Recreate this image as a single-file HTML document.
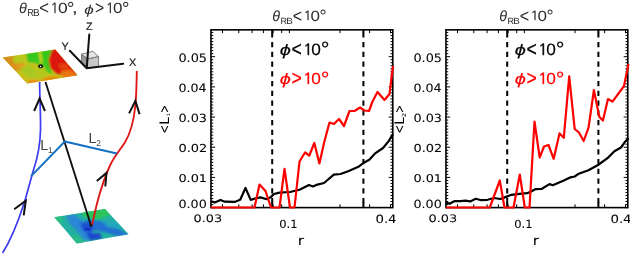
<!DOCTYPE html>
<html><head><meta charset="utf-8"><title>figure</title>
<style>
html,body{margin:0;padding:0;background:#fff;}
svg{display:block}
svg{font-family:"Liberation Sans","DejaVu Sans",sans-serif;}
text{text-rendering:geometricPrecision;}
.ax{font-size:10.8px;fill:#222;stroke:#222;stroke-width:0.2px;}
.ll{font-size:14.4px;fill:#444;}
</style></head><body>
<svg width="630" height="256" viewBox="0 0 630 256">
<rect width="630" height="256" fill="#fff"/>
<defs>
<clipPath id="cpT"><polygon points="2.8,57.6 55.2,49.6 77.5,75.2 27.2,83.6"/></clipPath>
<clipPath id="cpB"><polygon points="54.3,217.3 105,209 128.6,234.3 76.8,243.4"/></clipPath>
<filter id="bl" x="-20%" y="-20%" width="140%" height="140%"><feGaussianBlur stdDeviation="1.1"/></filter>
<filter id="bl2" x="-20%" y="-20%" width="140%" height="140%"><feGaussianBlur stdDeviation="1.3"/></filter>
<filter id="bl3" x="-30%" y="-30%" width="160%" height="160%"><feGaussianBlur stdDeviation="0.6"/></filter>
</defs>
<!-- top plane -->
<g clip-path="url(#cpT)">
 <rect x="0" y="45" width="82" height="42" fill="#c4c41c"/>
 <g filter="url(#bl)">
  <polygon points="0,56 14,55 16,61 23,65 23,70 16,71 8,66 0,60" fill="#d88e1a"/>
  <polygon points="12.5,57 24,55.5 25,62 14,63.5" fill="#b2c81c"/>
  <polygon points="15,64 24,63 25,68 18,70" fill="#e29c1e"/>
  <polygon points="20,68 30,65 36,70 40,78 30,78 24,74" fill="#a8c820"/>
  <polygon points="14,72 22,77 30,86 20,86 10,72" fill="#dca01c"/>
  <polygon points="26,53 40,50.5 56,47 54,56 50,62 50,68 53,74 46,72 41,66 36,63 28,62" fill="#38c81e"/>
  <polygon points="38.6,52 41,52 42.6,63 40.4,64 39.4,58" fill="#d2d41e"/>
  <polygon points="36,68 44,66 48,74 46,78 36,78" fill="#b4c61e"/>
  <polygon points="57,43 72,60 86,80 68,73 58,74.5 50.5,68.5 48.5,60 51.5,51" fill="#dc1608"/>
  <polygon points="58,64 67,63 70,68 61,70" fill="#e2400e"/>
  <polygon points="61,71 70,69.5 80,76 68,80 62,77" fill="#e8740f"/>
  <polygon points="46,77 54,76 62,78 60,84 40,86 38,82" fill="#e8900f"/>
  <polygon points="29,80 38,80 38,86 28,86" fill="#f0860e"/>
 </g>
</g>
<!-- bottom plane -->
<g clip-path="url(#cpB)">
 <rect x="50" y="205" width="84" height="42" fill="#22b0a2"/>
 <g filter="url(#bl2)">
  <polygon points="52,216 62,215 62,222 57,223" fill="#2cc07e"/>
  <polygon points="80,212 105,206.5 111,214 100,219 86,218" fill="#2cc45a"/>
  <polygon points="66,216 74,214.5 84,222 92,228 96,238 84,240 78,232 70,224" fill="#2c86d6"/>
  <polygon points="84,220 100,221 112,226 130,235 118,236 104,232 92,230" fill="#2470d2"/>
  <polygon points="102,220.5 116,222 122,229 108,227.5" fill="#22a6bc"/>
  <polygon points="80,223 90,222 94,229 90,233 83,231" fill="#1e50d0"/>
  <polygon points="86,233 100,233 102,238.5 90,240.5" fill="#1a4acb"/>
  <polygon points="68,235 79,236 86,243 76,245" fill="#2cba8a"/>
 </g>
 <ellipse cx="87.5" cy="229.2" rx="3" ry="1.4" fill="#1030c8" filter="url(#bl3)"/>
</g>
<!-- triad -->
<polygon points="81.5,54.3 92.8,51.3 98.6,56.6 87.6,59" fill="#e6e6e6" stroke="#666" stroke-width="0.8"/>
<polygon points="81.5,54.3 87.6,59 87.6,68.3 81.5,63.2" fill="#989898" stroke="#666" stroke-width="0.8"/>
<polygon points="87.6,59 98.6,56.6 98.6,66.6 87.6,68.3" fill="#c8c8c8" stroke="#666" stroke-width="0.8"/>
<path d="M89.3,34.4 L86.7,68.3 L123.2,63.7 M86.7,68.3 L69.8,50.8" fill="none" stroke="#111" stroke-width="2" stroke-linejoin="round" stroke-linecap="round"/>
<text class="ax" x="89.4" y="30" text-anchor="middle">Z</text>
<text class="ax" x="65.2" y="49.6" text-anchor="middle">Y</text>
<text class="ax" x="132.6" y="66" text-anchor="middle">X</text>
<!-- lines -->
<path d="M45.5,82 L91,225.5" stroke="#111" stroke-width="1.9" fill="none"/>
<path d="M39.6,82 C39.8,100 40.8,118 40.5,130 C40.2,145 37.5,158 33.5,170 C30,182 27,194 24.2,203 C20,216 12,238 2.6,253" stroke="#3c3cf0" stroke-width="1.7" fill="none"/>
<path d="M136.8,71 C136.6,85 136.4,95 135.4,105 C134,120 130,134 125,142.2 C120,150 114,157 110.5,164.5 C105,176 100,192 97,203.5 C95,212 93.5,218 92,225" stroke="#e01616" stroke-width="1.85" fill="none"/>
<path d="M30.9,176.4 L64.8,141.5 L116.8,153.5" stroke="#1270c2" stroke-width="1.9" fill="none" stroke-linejoin="round"/>
<!-- arrows -->
<path d="M34.1,111 L39.6,98.6 L45,111" stroke="#111" stroke-width="2" fill="none" stroke-linejoin="miter"/>
<path d="M129.1,113.4 L135.4,101 L139.6,114.2" stroke="#111" stroke-width="2" fill="none" stroke-linejoin="miter"/>
<path d="M14.2,209.3 L25.8,200.8 L23.7,215.3" stroke="#111" stroke-width="2" fill="none" stroke-linejoin="miter"/>
<path d="M96.8,181.1 L106.5,172.9 L105.3,186.3" stroke="#111" stroke-width="2" fill="none" stroke-linejoin="miter"/>
<!-- dots -->
<ellipse cx="40.6" cy="66.3" rx="2.5" ry="2.0" fill="#111"/><circle cx="40.6" cy="66.5" r="0.8" fill="#f4f4f4"/>
<circle cx="91" cy="225.5" r="1.4" fill="#111"/>
<!-- labels -->
<text class="ll" x="40.2" y="150.2">L<tspan font-size="8.5" dy="2.6" dx="-0.2">1</tspan></text>
<text class="ll" x="88.6" y="143.2">L<tspan font-size="8.5" dy="3" dx="-0.3">2</tspan></text>

<text><tspan x="18.88" y="13.00" font-family="Liberation Sans, Liberation Sans, sans-serif" font-size="14.52" font-style="italic" fill="#2c2c2c" textLength="7.83" lengthAdjust="spacingAndGlyphs">θ</tspan><tspan x="27.17" y="16.00" font-family="Liberation Sans, Liberation Sans, sans-serif" font-size="10.14" fill="#2c2c2c" textLength="6.61" lengthAdjust="spacingAndGlyphs">R</tspan><tspan x="33.09" y="16.00" font-family="Liberation Sans, Liberation Sans, sans-serif" font-size="10.14" fill="#2c2c2c" textLength="6.73" lengthAdjust="spacingAndGlyphs">B</tspan><tspan x="39.36" y="14.00" font-family="Liberation Sans, Liberation Sans, sans-serif" font-size="18.82" fill="#2c2c2c" textLength="9.75" lengthAdjust="spacingAndGlyphs">&lt;</tspan><tspan x="50.51" y="13.00" font-family="NanumGothic, Liberation Sans, sans-serif" font-size="13.92" fill="#2c2c2c" stroke="#2c2c2c" stroke-width="0.25" textLength="8.17" lengthAdjust="spacingAndGlyphs">1</tspan><tspan x="57.90" y="13.00" font-family="Liberation Sans, Liberation Sans, sans-serif" font-size="14.71" fill="#2c2c2c" textLength="9.72" lengthAdjust="spacingAndGlyphs">0</tspan><tspan x="66.99" y="15.00" font-family="Liberation Sans, Liberation Sans, sans-serif" font-size="18.93" fill="#2c2c2c" textLength="7.43" lengthAdjust="spacingAndGlyphs">°</tspan><tspan x="71.70" y="13.00" font-family="Liberation Sans, Liberation Sans, sans-serif" font-size="15.65" fill="#2c2c2c" textLength="6.14" lengthAdjust="spacingAndGlyphs">,</tspan> <tspan x="84.28" y="14.00" font-family="Liberation Sans, Liberation Sans, sans-serif" font-size="12.66" font-style="italic" fill="#2c2c2c" textLength="9.55" lengthAdjust="spacingAndGlyphs">ϕ</tspan><tspan x="94.92" y="14.00" font-family="Liberation Sans, Liberation Sans, sans-serif" font-size="18.82" fill="#2c2c2c" textLength="9.15" lengthAdjust="spacingAndGlyphs">&gt;</tspan><tspan x="105.65" y="13.00" font-family="NanumGothic, Liberation Sans, sans-serif" font-size="13.92" fill="#2c2c2c" stroke="#2c2c2c" stroke-width="0.25" textLength="8.43" lengthAdjust="spacingAndGlyphs">1</tspan><tspan x="113.12" y="13.00" font-family="Liberation Sans, Liberation Sans, sans-serif" font-size="14.71" fill="#2c2c2c" textLength="9.48" lengthAdjust="spacingAndGlyphs">0</tspan><tspan x="121.99" y="15.00" font-family="Liberation Sans, Liberation Sans, sans-serif" font-size="18.93" fill="#2c2c2c" textLength="7.43" lengthAdjust="spacingAndGlyphs">°</tspan></text>
<path d="M222.5,29.85v3.3M222.5,207.6v-3.3M238.8,29.85v3.3M238.8,207.6v-3.3M252.1,29.85v3.3M252.1,207.6v-3.3M263.4,29.85v3.3M263.4,207.6v-3.3M273.1,29.85v3.3M273.1,207.6v-3.3M281.7,29.85v3.3M281.7,207.6v-3.3M289.4,29.85v3.3M289.4,207.6v-3.3M340.0,29.85v3.3M340.0,207.6v-3.3M369.6,29.85v3.3M369.6,207.6v-3.3M390.5,29.85v3.3M390.5,207.6v-3.3M210.95,207.60h4.1M392.8,207.60h-4.1M210.95,204.58h2.3M392.8,204.58h-2.3M210.95,201.56h2.3M392.8,201.56h-2.3M210.95,198.55h2.3M392.8,198.55h-2.3M210.95,195.53h2.3M392.8,195.53h-2.3M210.95,192.51h2.3M392.8,192.51h-2.3M210.95,189.49h2.3M392.8,189.49h-2.3M210.95,186.47h2.3M392.8,186.47h-2.3M210.95,183.46h2.3M392.8,183.46h-2.3M210.95,180.44h2.3M392.8,180.44h-2.3M210.95,177.42h4.1M392.8,177.42h-4.1M210.95,174.40h2.3M392.8,174.40h-2.3M210.95,171.38h2.3M392.8,171.38h-2.3M210.95,168.37h2.3M392.8,168.37h-2.3M210.95,165.35h2.3M392.8,165.35h-2.3M210.95,162.33h2.3M392.8,162.33h-2.3M210.95,159.31h2.3M392.8,159.31h-2.3M210.95,156.29h2.3M392.8,156.29h-2.3M210.95,153.28h2.3M392.8,153.28h-2.3M210.95,150.26h2.3M392.8,150.26h-2.3M210.95,147.24h4.1M392.8,147.24h-4.1M210.95,144.22h2.3M392.8,144.22h-2.3M210.95,141.20h2.3M392.8,141.20h-2.3M210.95,138.19h2.3M392.8,138.19h-2.3M210.95,135.17h2.3M392.8,135.17h-2.3M210.95,132.15h2.3M392.8,132.15h-2.3M210.95,129.13h2.3M392.8,129.13h-2.3M210.95,126.11h2.3M392.8,126.11h-2.3M210.95,123.10h2.3M392.8,123.10h-2.3M210.95,120.08h2.3M392.8,120.08h-2.3M210.95,117.06h4.1M392.8,117.06h-4.1M210.95,114.04h2.3M392.8,114.04h-2.3M210.95,111.02h2.3M392.8,111.02h-2.3M210.95,108.01h2.3M392.8,108.01h-2.3M210.95,104.99h2.3M392.8,104.99h-2.3M210.95,101.97h2.3M392.8,101.97h-2.3M210.95,98.95h2.3M392.8,98.95h-2.3M210.95,95.93h2.3M392.8,95.93h-2.3M210.95,92.92h2.3M392.8,92.92h-2.3M210.95,89.90h2.3M392.8,89.90h-2.3M210.95,86.88h4.1M392.8,86.88h-4.1M210.95,83.86h2.3M392.8,83.86h-2.3M210.95,80.84h2.3M392.8,80.84h-2.3M210.95,77.83h2.3M392.8,77.83h-2.3M210.95,74.81h2.3M392.8,74.81h-2.3M210.95,71.79h2.3M392.8,71.79h-2.3M210.95,68.77h2.3M392.8,68.77h-2.3M210.95,65.75h2.3M392.8,65.75h-2.3M210.95,62.74h2.3M392.8,62.74h-2.3M210.95,59.72h2.3M392.8,59.72h-2.3M210.95,56.70h4.1M392.8,56.70h-4.1M210.95,53.68h2.3M392.8,53.68h-2.3M210.95,50.66h2.3M392.8,50.66h-2.3M210.95,47.65h2.3M392.8,47.65h-2.3M210.95,44.63h2.3M392.8,44.63h-2.3M210.95,41.61h2.3M392.8,41.61h-2.3M210.95,38.59h2.3M392.8,38.59h-2.3M210.95,35.57h2.3M392.8,35.57h-2.3M210.95,32.56h2.3M392.8,32.56h-2.3" stroke="#000" stroke-width="1.0" fill="none"/>
<rect x="210.95" y="29.85" width="181.85" height="177.75" fill="none" stroke="#000" stroke-width="1.6"/>
<line x1="272.2" y1="29.85" x2="272.2" y2="207.6" stroke="#000" stroke-width="2" stroke-dasharray="5.3,4.45" stroke-dashoffset="7.35"/>
<path d="M272.2,29.85v3M272.2,207.6v-5" stroke="#000" stroke-width="2" fill="none"/>
<line x1="363.4" y1="29.85" x2="363.4" y2="207.6" stroke="#000" stroke-width="2" stroke-dasharray="5.3,4.45" stroke-dashoffset="7.35"/>
<path d="M363.4,29.85v3M363.4,207.6v-5" stroke="#000" stroke-width="2" fill="none"/>
<polyline points="210.8,201.3 214.8,202.4 220.5,199.9 224.7,201.7 235.2,201.8 240.2,199.8 245.5,188.0 250.7,199.9 255.0,198.5 260.5,197.4 266.9,199.2 270.8,197.1 273.9,194.0 279.5,192.6 290.0,192.0 299.5,189.8 309.0,185.0 313.0,186.5 317.4,184.6 324.0,183.0 333.8,174.7 340.6,174.0 348.8,171.0 358.4,166.8 363.3,163.0 369.3,159.7 374.8,153.7 383.0,148.0 388.5,141.4 393.0,134.0" fill="none" stroke="#000" stroke-width="2.2" stroke-linejoin="round"/>
<polyline points="211.0,207.5 254.5,207.5 259.5,184.5 265.5,191.0 271.0,207.5 279.5,207.5 284.5,168.8 290.0,207.5 294.5,207.5 299.5,161.5 305.0,152.5 309.3,155.5 314.3,143.0 319.4,163.5 324.5,141.0 329.5,122.5 334.0,124.0 339.0,119.0 344.0,126.0 349.5,111.0 354.5,111.0 360.0,107.5 364.5,110.5 369.0,111.0 372.5,101.5 377.5,92.0 384.5,100.0 389.5,94.0 393.0,66.0" fill="none" stroke="#ff0000" stroke-width="2.2" stroke-linejoin="round"/>
<text><tspan x="178.47" y="208.00" font-family="DejaVu Sans, Liberation Sans, sans-serif" font-size="11.35" fill="#000" stroke="#000" stroke-width="0.06" textLength="28.27" lengthAdjust="spacingAndGlyphs">0.00</tspan></text>
<text><tspan x="178.46" y="182.00" font-family="DejaVu Sans, Liberation Sans, sans-serif" font-size="10.78" fill="#000" stroke="#000" stroke-width="0.06" textLength="28.61" lengthAdjust="spacingAndGlyphs">0.01</tspan></text>
<text><tspan x="178.46" y="152.00" font-family="DejaVu Sans, Liberation Sans, sans-serif" font-size="11.03" fill="#000" stroke="#000" stroke-width="0.06" textLength="28.75" lengthAdjust="spacingAndGlyphs">0.02</tspan></text>
<text><tspan x="178.47" y="122.00" font-family="DejaVu Sans, Liberation Sans, sans-serif" font-size="11.27" fill="#000" stroke="#000" stroke-width="0.06" textLength="28.47" lengthAdjust="spacingAndGlyphs">0.03</tspan></text>
<text><tspan x="178.48" y="92.00" font-family="DejaVu Sans, Liberation Sans, sans-serif" font-size="11.51" fill="#000" stroke="#000" stroke-width="0.06" textLength="28.14" lengthAdjust="spacingAndGlyphs">0.04</tspan></text>
<text><tspan x="178.47" y="62.00" font-family="DejaVu Sans, Liberation Sans, sans-serif" font-size="11.76" fill="#000" stroke="#000" stroke-width="0.06" textLength="28.54" lengthAdjust="spacingAndGlyphs">0.05</tspan></text>
<text><tspan x="193.57" y="222.00" font-family="DejaVu Sans, Liberation Sans, sans-serif" font-size="10.27" fill="#000" stroke="#000" stroke-width="0.06" textLength="28.58" lengthAdjust="spacingAndGlyphs">0.03</tspan></text>
<text><tspan x="279.25" y="228.00" font-family="DejaVu Sans, Liberation Sans, sans-serif" font-size="11.22" fill="#000" stroke="#000" stroke-width="0.06" textLength="18.29" lengthAdjust="spacingAndGlyphs">0.1</tspan></text>
<text><tspan x="375.44" y="223.00" font-family="DejaVu Sans, Liberation Sans, sans-serif" font-size="11.49" fill="#000" stroke="#000" stroke-width="0.06" textLength="21.10" lengthAdjust="spacingAndGlyphs">0.4</tspan></text>
<text><tspan x="297.82" y="245.00" font-family="DejaVu Sans, Liberation Sans, sans-serif" font-size="13.04" fill="#000" stroke="#000" stroke-width="0.06" textLength="6.30" lengthAdjust="spacingAndGlyphs">r</tspan></text>
<text transform="translate(165,119) rotate(-90)"><tspan x="-14.49" y="4.00" font-family="DejaVu Sans, Liberation Sans, sans-serif" font-size="13.96" fill="#000" textLength="8.71" lengthAdjust="spacingAndGlyphs">&lt;</tspan><tspan x="-5.76" y="4.00" font-family="DejaVu Sans, Liberation Sans, sans-serif" font-size="13.15" fill="#000" textLength="7.55" lengthAdjust="spacingAndGlyphs">L</tspan><tspan x="2.47" y="5.00" font-family="DejaVu Sans, Liberation Sans, sans-serif" font-size="4.38" fill="#000" textLength="3.66" lengthAdjust="spacingAndGlyphs">1</tspan><tspan x="6.09" y="4.00" font-family="DejaVu Sans, Liberation Sans, sans-serif" font-size="13.96" fill="#000" textLength="8.04" lengthAdjust="spacingAndGlyphs">&gt;</tspan></text>
<text><tspan x="272.23" y="21.00" font-family="Liberation Sans, Liberation Sans, sans-serif" font-size="14.79" font-style="italic" fill="#2c2c2c" textLength="7.77" lengthAdjust="spacingAndGlyphs">θ</tspan><tspan x="280.58" y="24.00" font-family="Liberation Sans, Liberation Sans, sans-serif" font-size="8.99" fill="#2c2c2c" textLength="6.49" lengthAdjust="spacingAndGlyphs">R</tspan><tspan x="286.21" y="24.00" font-family="Liberation Sans, Liberation Sans, sans-serif" font-size="8.99" fill="#2c2c2c" textLength="6.61" lengthAdjust="spacingAndGlyphs">B</tspan><tspan x="292.70" y="22.00" font-family="Liberation Sans, Liberation Sans, sans-serif" font-size="18.24" fill="#2c2c2c" textLength="9.39" lengthAdjust="spacingAndGlyphs">&lt;</tspan><tspan x="303.51" y="20.00" font-family="NanumGothic, Liberation Sans, sans-serif" font-size="12.57" fill="#2c2c2c" stroke="#2c2c2c" stroke-width="0.25" textLength="8.17" lengthAdjust="spacingAndGlyphs">1</tspan><tspan x="310.62" y="21.00" font-family="Liberation Sans, Liberation Sans, sans-serif" font-size="14.71" fill="#2c2c2c" textLength="9.48" lengthAdjust="spacingAndGlyphs">0</tspan><tspan x="319.53" y="22.00" font-family="Liberation Sans, Liberation Sans, sans-serif" font-size="17.86" fill="#2c2c2c" textLength="7.14" lengthAdjust="spacingAndGlyphs">°</tspan></text>
<text><tspan x="279.70" y="55.00" font-family="Liberation Sans, Liberation Sans, sans-serif" font-size="15.11" font-style="italic" fill="#000" stroke="#000" stroke-width="0.15" textLength="11.12" lengthAdjust="spacingAndGlyphs">ϕ</tspan><tspan x="291.41" y="56.00" font-family="Liberation Sans, Liberation Sans, sans-serif" font-size="20.98" fill="#000" stroke="#000" stroke-width="0.15" textLength="10.36" lengthAdjust="spacingAndGlyphs">&lt;</tspan><tspan x="303.05" y="55.00" font-family="NanumGothic, Liberation Sans, sans-serif" font-size="15.41" fill="#000" stroke="#000" stroke-width="0.45" textLength="9.75" lengthAdjust="spacingAndGlyphs">1</tspan><tspan x="311.31" y="55.00" font-family="Liberation Sans, Liberation Sans, sans-serif" font-size="16.29" fill="#000" stroke="#000" stroke-width="0.15" textLength="9.60" lengthAdjust="spacingAndGlyphs">0</tspan><tspan x="320.89" y="56.00" font-family="Liberation Sans, Liberation Sans, sans-serif" font-size="20.71" fill="#000" stroke="#000" stroke-width="0.15" textLength="8.71" lengthAdjust="spacingAndGlyphs">°</tspan></text>
<text><tspan x="279.70" y="84.00" font-family="Liberation Sans, Liberation Sans, sans-serif" font-size="15.11" font-style="italic" fill="#ff0000" stroke="#ff0000" stroke-width="0.15" textLength="11.12" lengthAdjust="spacingAndGlyphs">ϕ</tspan><tspan x="291.41" y="85.00" font-family="Liberation Sans, Liberation Sans, sans-serif" font-size="20.98" fill="#ff0000" stroke="#ff0000" stroke-width="0.15" textLength="10.36" lengthAdjust="spacingAndGlyphs">&gt;</tspan><tspan x="303.05" y="84.00" font-family="NanumGothic, Liberation Sans, sans-serif" font-size="15.27" fill="#ff0000" stroke="#ff0000" stroke-width="0.45" textLength="9.75" lengthAdjust="spacingAndGlyphs">1</tspan><tspan x="311.31" y="84.00" font-family="Liberation Sans, Liberation Sans, sans-serif" font-size="16.14" fill="#ff0000" stroke="#ff0000" stroke-width="0.15" textLength="9.60" lengthAdjust="spacingAndGlyphs">0</tspan><tspan x="320.89" y="86.00" font-family="Liberation Sans, Liberation Sans, sans-serif" font-size="20.71" fill="#ff0000" stroke="#ff0000" stroke-width="0.15" textLength="8.71" lengthAdjust="spacingAndGlyphs">°</tspan></text>
<path d="M457.5,29.85v3.3M457.5,207.6v-3.3M473.8,29.85v3.3M473.8,207.6v-3.3M487.1,29.85v3.3M487.1,207.6v-3.3M498.4,29.85v3.3M498.4,207.6v-3.3M508.1,29.85v3.3M508.1,207.6v-3.3M516.7,29.85v3.3M516.7,207.6v-3.3M524.4,29.85v3.3M524.4,207.6v-3.3M575.0,29.85v3.3M575.0,207.6v-3.3M604.6,29.85v3.3M604.6,207.6v-3.3M625.5,29.85v3.3M625.5,207.6v-3.3M445.95,207.60h4.1M627.8,207.60h-4.1M445.95,204.58h2.3M627.8,204.58h-2.3M445.95,201.56h2.3M627.8,201.56h-2.3M445.95,198.55h2.3M627.8,198.55h-2.3M445.95,195.53h2.3M627.8,195.53h-2.3M445.95,192.51h2.3M627.8,192.51h-2.3M445.95,189.49h2.3M627.8,189.49h-2.3M445.95,186.47h2.3M627.8,186.47h-2.3M445.95,183.46h2.3M627.8,183.46h-2.3M445.95,180.44h2.3M627.8,180.44h-2.3M445.95,177.42h4.1M627.8,177.42h-4.1M445.95,174.40h2.3M627.8,174.40h-2.3M445.95,171.38h2.3M627.8,171.38h-2.3M445.95,168.37h2.3M627.8,168.37h-2.3M445.95,165.35h2.3M627.8,165.35h-2.3M445.95,162.33h2.3M627.8,162.33h-2.3M445.95,159.31h2.3M627.8,159.31h-2.3M445.95,156.29h2.3M627.8,156.29h-2.3M445.95,153.28h2.3M627.8,153.28h-2.3M445.95,150.26h2.3M627.8,150.26h-2.3M445.95,147.24h4.1M627.8,147.24h-4.1M445.95,144.22h2.3M627.8,144.22h-2.3M445.95,141.20h2.3M627.8,141.20h-2.3M445.95,138.19h2.3M627.8,138.19h-2.3M445.95,135.17h2.3M627.8,135.17h-2.3M445.95,132.15h2.3M627.8,132.15h-2.3M445.95,129.13h2.3M627.8,129.13h-2.3M445.95,126.11h2.3M627.8,126.11h-2.3M445.95,123.10h2.3M627.8,123.10h-2.3M445.95,120.08h2.3M627.8,120.08h-2.3M445.95,117.06h4.1M627.8,117.06h-4.1M445.95,114.04h2.3M627.8,114.04h-2.3M445.95,111.02h2.3M627.8,111.02h-2.3M445.95,108.01h2.3M627.8,108.01h-2.3M445.95,104.99h2.3M627.8,104.99h-2.3M445.95,101.97h2.3M627.8,101.97h-2.3M445.95,98.95h2.3M627.8,98.95h-2.3M445.95,95.93h2.3M627.8,95.93h-2.3M445.95,92.92h2.3M627.8,92.92h-2.3M445.95,89.90h2.3M627.8,89.90h-2.3M445.95,86.88h4.1M627.8,86.88h-4.1M445.95,83.86h2.3M627.8,83.86h-2.3M445.95,80.84h2.3M627.8,80.84h-2.3M445.95,77.83h2.3M627.8,77.83h-2.3M445.95,74.81h2.3M627.8,74.81h-2.3M445.95,71.79h2.3M627.8,71.79h-2.3M445.95,68.77h2.3M627.8,68.77h-2.3M445.95,65.75h2.3M627.8,65.75h-2.3M445.95,62.74h2.3M627.8,62.74h-2.3M445.95,59.72h2.3M627.8,59.72h-2.3M445.95,56.70h4.1M627.8,56.70h-4.1M445.95,53.68h2.3M627.8,53.68h-2.3M445.95,50.66h2.3M627.8,50.66h-2.3M445.95,47.65h2.3M627.8,47.65h-2.3M445.95,44.63h2.3M627.8,44.63h-2.3M445.95,41.61h2.3M627.8,41.61h-2.3M445.95,38.59h2.3M627.8,38.59h-2.3M445.95,35.57h2.3M627.8,35.57h-2.3M445.95,32.56h2.3M627.8,32.56h-2.3" stroke="#000" stroke-width="1.0" fill="none"/>
<rect x="445.95" y="29.85" width="181.85" height="177.75" fill="none" stroke="#000" stroke-width="1.6"/>
<line x1="507.2" y1="29.85" x2="507.2" y2="207.6" stroke="#000" stroke-width="2" stroke-dasharray="5.3,4.45" stroke-dashoffset="7.35"/>
<path d="M507.2,29.85v3M507.2,207.6v-5" stroke="#000" stroke-width="2" fill="none"/>
<line x1="598.4" y1="29.85" x2="598.4" y2="207.6" stroke="#000" stroke-width="2" stroke-dasharray="5.3,4.45" stroke-dashoffset="7.35"/>
<path d="M598.4,29.85v3M598.4,207.6v-5" stroke="#000" stroke-width="2" fill="none"/>
<polyline points="445.8,202.2 449.5,203.8 454.3,201.2 460.6,201.2 465.4,200.7 470.2,201.4 475.7,198.8 481.3,200.2 487.6,199.8 494.0,198.0 500.3,199.0 506.7,196.6 511.4,194.8 519.4,193.9 527.3,193.2 532.0,191.0 535.2,189.2 541.9,188.8 549.5,184.1 552.8,185.2 563.8,180.6 570.6,177.3 574.7,176.5 578.8,173.7 588.4,170.2 598.0,165.0 607.5,158.2 614.4,151.2 621.0,147.5 625.3,141.5 628.5,138.3" fill="none" stroke="#000" stroke-width="2.2" stroke-linejoin="round"/>
<polyline points="446.0,207.5 489.8,207.5 499.8,180.5 504.5,207.5 513.5,207.5 519.8,174.5 524.8,207.5 529.5,207.5 534.5,121.5 539.7,157.5 544.0,146.5 548.5,145.0 553.7,158.8 559.5,133.4 563.8,137.8 569.2,76.4 574.7,129.0 578.8,132.3 583.7,141.0 588.6,127.4 593.9,90.0 599.3,116.8 602.9,120.6 608.0,99.0 612.5,101.6 624.0,86.0 628.5,64.0" fill="none" stroke="#ff0000" stroke-width="2.2" stroke-linejoin="round"/>
<text><tspan x="413.47" y="208.00" font-family="DejaVu Sans, Liberation Sans, sans-serif" font-size="11.35" fill="#000" stroke="#000" stroke-width="0.06" textLength="28.27" lengthAdjust="spacingAndGlyphs">0.00</tspan></text>
<text><tspan x="413.46" y="182.00" font-family="DejaVu Sans, Liberation Sans, sans-serif" font-size="10.78" fill="#000" stroke="#000" stroke-width="0.06" textLength="28.61" lengthAdjust="spacingAndGlyphs">0.01</tspan></text>
<text><tspan x="413.46" y="152.00" font-family="DejaVu Sans, Liberation Sans, sans-serif" font-size="11.03" fill="#000" stroke="#000" stroke-width="0.06" textLength="28.75" lengthAdjust="spacingAndGlyphs">0.02</tspan></text>
<text><tspan x="413.47" y="122.00" font-family="DejaVu Sans, Liberation Sans, sans-serif" font-size="11.27" fill="#000" stroke="#000" stroke-width="0.06" textLength="28.47" lengthAdjust="spacingAndGlyphs">0.03</tspan></text>
<text><tspan x="413.48" y="92.00" font-family="DejaVu Sans, Liberation Sans, sans-serif" font-size="11.51" fill="#000" stroke="#000" stroke-width="0.06" textLength="28.14" lengthAdjust="spacingAndGlyphs">0.04</tspan></text>
<text><tspan x="413.47" y="62.00" font-family="DejaVu Sans, Liberation Sans, sans-serif" font-size="11.76" fill="#000" stroke="#000" stroke-width="0.06" textLength="28.54" lengthAdjust="spacingAndGlyphs">0.05</tspan></text>
<text><tspan x="428.57" y="222.00" font-family="DejaVu Sans, Liberation Sans, sans-serif" font-size="10.27" fill="#000" stroke="#000" stroke-width="0.06" textLength="28.58" lengthAdjust="spacingAndGlyphs">0.03</tspan></text>
<text><tspan x="514.25" y="228.00" font-family="DejaVu Sans, Liberation Sans, sans-serif" font-size="11.22" fill="#000" stroke="#000" stroke-width="0.06" textLength="18.29" lengthAdjust="spacingAndGlyphs">0.1</tspan></text>
<text><tspan x="610.44" y="223.00" font-family="DejaVu Sans, Liberation Sans, sans-serif" font-size="11.49" fill="#000" stroke="#000" stroke-width="0.06" textLength="21.10" lengthAdjust="spacingAndGlyphs">0.4</tspan></text>
<text><tspan x="532.82" y="245.00" font-family="DejaVu Sans, Liberation Sans, sans-serif" font-size="13.04" fill="#000" stroke="#000" stroke-width="0.06" textLength="6.30" lengthAdjust="spacingAndGlyphs">r</tspan></text>
<text transform="translate(400,119) rotate(-90)"><tspan x="-14.49" y="4.00" font-family="DejaVu Sans, Liberation Sans, sans-serif" font-size="13.96" fill="#000" textLength="8.71" lengthAdjust="spacingAndGlyphs">&lt;</tspan><tspan x="-5.76" y="4.00" font-family="DejaVu Sans, Liberation Sans, sans-serif" font-size="13.15" fill="#000" textLength="7.55" lengthAdjust="spacingAndGlyphs">L</tspan><tspan x="1.76" y="6.00" font-family="DejaVu Sans, Liberation Sans, sans-serif" font-size="5.68" fill="#000" textLength="4.56" lengthAdjust="spacingAndGlyphs">2</tspan><tspan x="6.09" y="4.00" font-family="DejaVu Sans, Liberation Sans, sans-serif" font-size="13.96" fill="#000" textLength="8.04" lengthAdjust="spacingAndGlyphs">&gt;</tspan></text>
<text><tspan x="499.23" y="21.00" font-family="Liberation Sans, Liberation Sans, sans-serif" font-size="14.79" font-style="italic" fill="#2c2c2c" textLength="7.77" lengthAdjust="spacingAndGlyphs">θ</tspan><tspan x="507.58" y="24.00" font-family="Liberation Sans, Liberation Sans, sans-serif" font-size="8.99" fill="#2c2c2c" textLength="6.49" lengthAdjust="spacingAndGlyphs">R</tspan><tspan x="513.21" y="24.00" font-family="Liberation Sans, Liberation Sans, sans-serif" font-size="8.99" fill="#2c2c2c" textLength="6.61" lengthAdjust="spacingAndGlyphs">B</tspan><tspan x="519.70" y="22.00" font-family="Liberation Sans, Liberation Sans, sans-serif" font-size="18.24" fill="#2c2c2c" textLength="9.39" lengthAdjust="spacingAndGlyphs">&lt;</tspan><tspan x="530.51" y="20.00" font-family="NanumGothic, Liberation Sans, sans-serif" font-size="12.57" fill="#2c2c2c" stroke="#2c2c2c" stroke-width="0.25" textLength="8.17" lengthAdjust="spacingAndGlyphs">1</tspan><tspan x="537.62" y="21.00" font-family="Liberation Sans, Liberation Sans, sans-serif" font-size="14.71" fill="#2c2c2c" textLength="9.48" lengthAdjust="spacingAndGlyphs">0</tspan><tspan x="546.53" y="22.00" font-family="Liberation Sans, Liberation Sans, sans-serif" font-size="17.86" fill="#2c2c2c" textLength="7.14" lengthAdjust="spacingAndGlyphs">°</tspan></text>
<text><tspan x="514.70" y="55.00" font-family="Liberation Sans, Liberation Sans, sans-serif" font-size="15.11" font-style="italic" fill="#000" stroke="#000" stroke-width="0.15" textLength="11.12" lengthAdjust="spacingAndGlyphs">ϕ</tspan><tspan x="526.41" y="56.00" font-family="Liberation Sans, Liberation Sans, sans-serif" font-size="20.98" fill="#000" stroke="#000" stroke-width="0.15" textLength="10.36" lengthAdjust="spacingAndGlyphs">&lt;</tspan><tspan x="538.05" y="55.00" font-family="NanumGothic, Liberation Sans, sans-serif" font-size="15.41" fill="#000" stroke="#000" stroke-width="0.45" textLength="9.75" lengthAdjust="spacingAndGlyphs">1</tspan><tspan x="546.31" y="55.00" font-family="Liberation Sans, Liberation Sans, sans-serif" font-size="16.29" fill="#000" stroke="#000" stroke-width="0.15" textLength="9.60" lengthAdjust="spacingAndGlyphs">0</tspan><tspan x="555.89" y="56.00" font-family="Liberation Sans, Liberation Sans, sans-serif" font-size="20.71" fill="#000" stroke="#000" stroke-width="0.15" textLength="8.71" lengthAdjust="spacingAndGlyphs">°</tspan></text>
<text><tspan x="514.70" y="84.00" font-family="Liberation Sans, Liberation Sans, sans-serif" font-size="15.11" font-style="italic" fill="#ff0000" stroke="#ff0000" stroke-width="0.15" textLength="11.12" lengthAdjust="spacingAndGlyphs">ϕ</tspan><tspan x="526.41" y="85.00" font-family="Liberation Sans, Liberation Sans, sans-serif" font-size="20.98" fill="#ff0000" stroke="#ff0000" stroke-width="0.15" textLength="10.36" lengthAdjust="spacingAndGlyphs">&gt;</tspan><tspan x="538.05" y="84.00" font-family="NanumGothic, Liberation Sans, sans-serif" font-size="15.27" fill="#ff0000" stroke="#ff0000" stroke-width="0.45" textLength="9.75" lengthAdjust="spacingAndGlyphs">1</tspan><tspan x="546.31" y="84.00" font-family="Liberation Sans, Liberation Sans, sans-serif" font-size="16.14" fill="#ff0000" stroke="#ff0000" stroke-width="0.15" textLength="9.60" lengthAdjust="spacingAndGlyphs">0</tspan><tspan x="555.89" y="86.00" font-family="Liberation Sans, Liberation Sans, sans-serif" font-size="20.71" fill="#ff0000" stroke="#ff0000" stroke-width="0.15" textLength="8.71" lengthAdjust="spacingAndGlyphs">°</tspan></text>
</svg>
</body></html>
